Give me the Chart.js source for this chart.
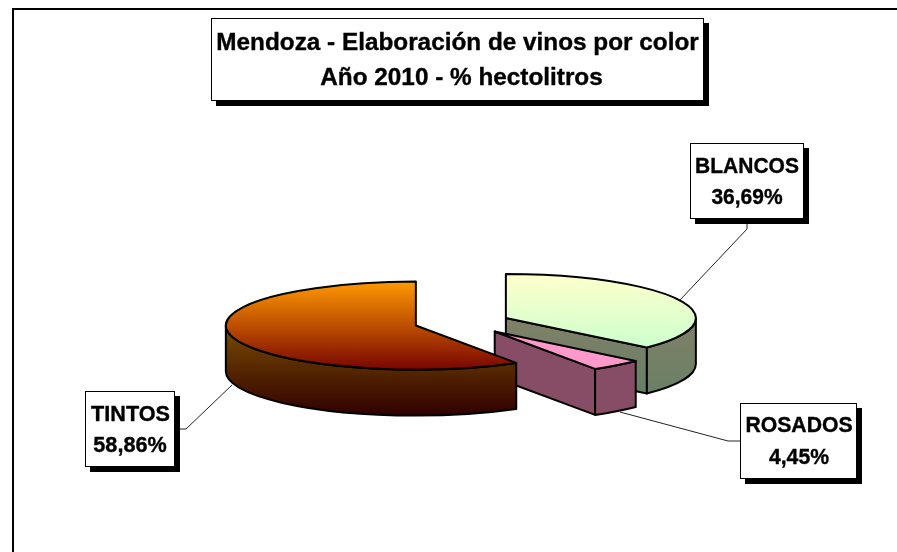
<!DOCTYPE html>
<html lang="es">
<head>
<meta charset="utf-8">
<title>Mendoza - Elaboración de vinos por color</title>
<style>
html,body{margin:0;padding:0;background:#fff;overflow:hidden}
#wrap{position:relative;width:897px;height:552px}
canvas{display:block}
</style>
<script src="https://cdn.jsdelivr.net/npm/chart.js@4"></script>
</head>
<body>
<div id="wrap"><canvas id="c" width="897" height="552"></canvas></div>
<script>
// --- data ---
const categories = ['BLANCOS', 'ROSADOS', 'TINTOS'];
const shares = [36.69, 4.45, 58.86];
const shareLabels = ['36,69%', '4,45%', '58,86%'];
const titleLines = ['Mendoza - Elaboración de vinos por color', 'Año 2010 - % hectolitros'];

// --- styles ---
const topFrom = ['#FFFFCC', '#FF99CC', '#FF9900'];
const topTo = ['#CCFFCC', '#FF99CC', '#7A0500'];
const wallFrom = ['#808068', '#884D66', '#7A4C00'];
const wallTo = ['#668066', '#884D66', '#300000'];
const explodeBy = [48, 51, 48];   // slice separation along the mid angle
const drawOrder = [0, 1, 2];

const FONT = '"Liberation Sans", Arial, sans-serif';
const TILT = 0.2316;      // vertical squash of the pie
const DEPTH = 46;         // extrusion height

function box(ctx, x0, y0, x1, y1) {
  ctx.fillStyle = '#000';
  ctx.fillRect(x0 + 5, y0 + 5, x1 - x0, y1 - y0);
  ctx.fillStyle = '#fff';
  ctx.fillRect(x0, y0, x1 - x0, y1 - y0);
  ctx.strokeStyle = '#000';
  ctx.lineWidth = 1;
  ctx.strokeRect(x0 + .5, y0 + .5, x1 - x0 - 1, y1 - y0 - 1);
}
function centred(ctx, text, x, y, size, sx, sy) {
  ctx.save();
  ctx.translate(x, y);
  ctx.scale(sx, sy);
  ctx.font = 'bold ' + size + 'px ' + FONT;
  ctx.textAlign = 'center';
  ctx.textBaseline = 'alphabetic';
  ctx.fillStyle = '#000';
  ctx.strokeStyle = '#000';
  ctx.lineWidth = 0.35;
  ctx.fillText(text, 0, 0);
  ctx.strokeText(text, 0, 0);
  ctx.restore();
}
function leader(ctx, pts) {
  ctx.strokeStyle = '#222';
  ctx.lineWidth = 1;
  ctx.beginPath();
  pts.forEach((p, i) => i ? ctx.lineTo(p[0], p[1]) : ctx.moveTo(p[0], p[1]));
  ctx.stroke();
}

const pie3d = {
  id: 'pie3d',
  beforeDatasetsDraw(chart) {
    const ctx = chart.ctx;
    const arcs = chart.getDatasetMeta(0).data;
    drawOrder.forEach(i => {
      const a = arcs[i];
      const mid = (a.startAngle + a.endAngle) / 2;
      const cx = a.x + Math.cos(mid) * explodeBy[i];
      const cy = a.y + Math.sin(mid) * explodeBy[i] * TILT;
      const r = a.outerRadius;
      const px = t => cx + Math.cos(t) * r;
      const py = t => cy + Math.sin(t) * r * TILT;
      const wallGrad = (y0, y1) => {
        const g = ctx.createLinearGradient(0, y0, 0, y1);
        g.addColorStop(0, wallFrom[i]);
        g.addColorStop(1, wallTo[i]);
        return g;
      };
      ctx.save();
      ctx.lineJoin = 'round';
      ctx.lineWidth = 2;
      ctx.strokeStyle = '#000';

      // straight cut face at the end of the slice, when it looks at the viewer
      const face = t => {
        ctx.beginPath();
        ctx.moveTo(cx, cy);
        ctx.lineTo(px(t), py(t));
        ctx.lineTo(px(t), py(t) + DEPTH);
        ctx.lineTo(cx, cy + DEPTH);
        ctx.closePath();
        ctx.fillStyle = wallGrad(Math.min(cy, py(t)), Math.max(cy, py(t)) + DEPTH);
        ctx.fill();
        ctx.stroke();
      };
      if (Math.cos(a.endAngle) > 1e-6) face(a.endAngle);
      if (Math.cos(a.startAngle) < -1e-6) face(a.startAngle);

      // curved outer wall: only the part on the near side of the ellipse
      const TWO = 2 * Math.PI;
      const wall = (w0, w1) => {
        if (w1 <= w0) return;
        ctx.beginPath();
        ctx.ellipse(cx, cy, r, r * TILT, 0, w0, w1);
        ctx.ellipse(cx, cy + DEPTH, r, r * TILT, 0, w1, w0, true);
        ctx.closePath();
        ctx.fillStyle = wallGrad(cy, cy + r * TILT + DEPTH);
        ctx.fill();
        ctx.stroke();
      };
      for (const k of [-1, 0, 1]) {
        wall(Math.max(a.startAngle, k * TWO), Math.min(a.endAngle, k * TWO + Math.PI));
      }

      // top face
      const ys = [py(a.startAngle), py(a.endAngle), cy];
      for (const q of [-Math.PI / 2, Math.PI / 2, 3 * Math.PI / 2]) {
        if (q > a.startAngle && q < a.endAngle) ys.push(py(q));
      }
      const g = ctx.createLinearGradient(0, Math.min(...ys), 0, Math.max(...ys));
      g.addColorStop(0, topFrom[i]);
      g.addColorStop(1, topTo[i]);
      ctx.beginPath();
      ctx.moveTo(cx, cy);
      ctx.ellipse(cx, cy, r, r * TILT, 0, a.startAngle, a.endAngle);
      ctx.closePath();
      ctx.fillStyle = g;
      ctx.fill();
      ctx.stroke();
      ctx.restore();
    });
  },
  beforeDatasetDraw() { return false; },
  afterDatasetsDraw(chart) { annotate(chart); },
  beforeDraw(chart) {
    const ctx = chart.ctx;
    ctx.save();
    ctx.fillStyle = '#fff';
    ctx.fillRect(0, 0, chart.width, chart.height);
    ctx.strokeStyle = '#000';
    ctx.lineWidth = 2;
    ctx.beginPath();
    ctx.moveTo(13, chart.height);
    ctx.lineTo(13, 9);
    ctx.lineTo(chart.width, 9);
    ctx.stroke();
    ctx.restore();
  }
};

function annotate(chart) {
  const ctx = chart.ctx;
  ctx.save();
  leader(ctx, [[747, 224], [747, 229], [680, 300]]);
  leader(ctx, [[740, 441], [728, 441], [620, 412]]);
  leader(ctx, [[179, 429], [186, 429], [232, 385]]);

  box(ctx, 211, 18, 704, 101);
  centred(ctx, titleLines[0], 457.5, 50, 23.5, 1.035, 1);
  centred(ctx, titleLines[1], 461.5, 85, 23.5, 1.035, 1);

  box(ctx, 690, 143, 804, 219);
  centred(ctx, categories[0], 747, 173, 21, 1, 1.08);
  centred(ctx, shareLabels[0], 747, 204, 21, 1, 1.08);

  box(ctx, 740, 403, 857, 479);
  centred(ctx, categories[1], 799, 432, 21, 1.01, 1.08);
  centred(ctx, shareLabels[1], 799, 464, 21, 1.01, 1.08);

  box(ctx, 85, 391, 175, 467);
  centred(ctx, categories[2], 130.5, 421, 21, 1.03, 1.08);
  centred(ctx, shareLabels[2], 130, 452, 21, 1.03, 1.08);
  ctx.restore();
}

new Chart(document.getElementById('c'), {
  type: 'pie',
  data: {
    labels: categories,
    datasets: [{ data: shares, backgroundColor: topFrom, borderWidth: 0 }]
  },
  options: {
    responsive: false,
    animation: false,
    layout: { padding: { left: 272, right: 245, top: 132.5, bottom: 39.5 } },
    plugins: { legend: { display: false }, tooltip: { enabled: false }, title: { display: false } }
  },
  plugins: [pie3d]
});
</script>
</body>
</html>
